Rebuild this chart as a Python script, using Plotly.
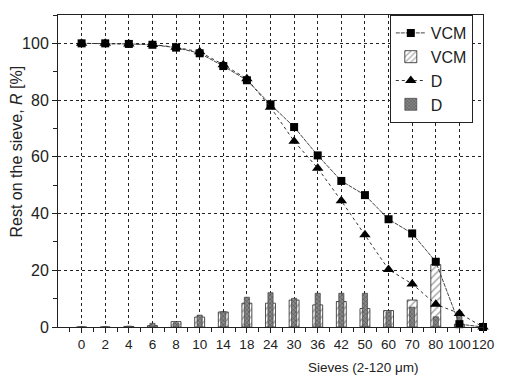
import plotly.graph_objects as go

sieves = ["0", "2", "4", "6", "8", "10", "14", "18", "24", "30", "36", "42",
          "50", "60", "70", "80", "100", "120"]
vcm_cum = [100, 100, 99.8, 99.5, 98.5, 96.5, 92, 87, 78.5, 70.5, 60.5, 51.5,
           46.5, 38, 33, 23, 1, 0]
d_cum = [100, 100, 99.8, 99.6, 98.6, 97, 92.5, 87.5, 77.5, 65.5, 56, 44.5,
         32.5, 20.3, 15.2, 8, 4.8, 0]
vcm_frac = [0, 0, 0.2, 0.5, 1.9, 3.5, 5.3, 8.4, 8.4, 9.5, 7.8, 9, 6.5, 5.8,
            9.5, 22, 1, 0]
d_frac = [0, 0, 0.3, 1.3, 1.5, 4.2, 5.4, 10.5, 12.1, 10.1, 11.9, 11.9, 11.9,
          5.4, 7, 3.6, 5.5, 0]

idx = list(range(len(sieves)))
FONT = "Liberation Sans, Arial, sans-serif"

fig = go.Figure()
fig.add_trace(go.Bar(
    x=idx, y=vcm_frac, name="VCM", width=0.42, legendrank=2,
    marker=dict(color="white", line=dict(color="#222", width=0.8),
                pattern=dict(shape="/", fgcolor="#555", size=5, solidity=0.3)),
))
fig.add_trace(go.Bar(
    x=idx, y=d_frac, name="D", width=0.22, legendrank=4,
    marker=dict(color="#888", line=dict(color="#333", width=0.6),
                pattern=dict(shape="x", fgcolor="#222", size=3, solidity=0.4)),
))
fig.add_trace(go.Scatter(
    x=idx, y=vcm_cum, name="VCM", mode="lines+markers", legendrank=1,
    line=dict(color="#444", width=1, dash="4px,1px"),
    marker=dict(symbol="square", size=8, color="black"),
    cliponaxis=False,
))
fig.add_trace(go.Scatter(
    x=idx, y=d_cum, name="D", mode="lines+markers", legendrank=3,
    line=dict(color="#333", width=1, dash="dot"),
    marker=dict(symbol="triangle-up", size=10, color="black"),
    cliponaxis=False,
))

fig.update_layout(
    width=505, height=376,
    margin=dict(l=58, r=22, t=15, b=49),
    paper_bgcolor="white", plot_bgcolor="white",
    barmode="overlay",
    font=dict(family=FONT, size=14, color="#222"),
    showlegend=True,
    legend=dict(x=0.976, y=1, xanchor="right", yanchor="top",
                bordercolor="#222", borderwidth=1, bgcolor="white",
                font=dict(size=16), tracegroupgap=0,
                itemwidth=30),
    xaxis=dict(
        range=[-1, 17], tickmode="array", tickvals=idx, ticktext=sieves,
        tickangle=0,
        showline=True, linecolor="#222", linewidth=1, mirror=True,
        ticks="outside", ticklen=5, tickcolor="#222",
        showgrid=True, gridcolor="#222", griddash="dot", gridwidth=1,
        zeroline=False, tickfont=dict(size=13.5),
        minor=dict(tick0=-0.5, dtick=1, ticks="outside", ticklen=4,
                   tickcolor="#222", showgrid=False),
    ),
    yaxis=dict(
        range=[0, 110], tickmode="linear", tick0=0, dtick=20,
        showline=True, linecolor="#222", linewidth=1, mirror=True,
        ticks="outside", ticklen=5, tickcolor="#222",
        showgrid=True, gridcolor="#222", griddash="dot", gridwidth=1,
        zeroline=False, tickfont=dict(size=16),
        minor=dict(dtick=10, ticks="outside", ticklen=4, tickcolor="#222",
                   showgrid=False),
    ),
    annotations=[
        dict(text="Sieves (2-120 \u03bcm)", xref="paper", yref="paper",
             x=0.718, y=-0.131, xanchor="center", yanchor="middle",
             showarrow=False, font=dict(size=13.5)),
        dict(text="Rest on the sieve, <i>R</i> [%]", xref="paper",
             yref="paper", x=-0.0965, y=0.5625, xanchor="center",
             yanchor="middle", textangle=-90, showarrow=False,
             font=dict(size=16)),
    ],
)

fig.write_html("out.html", config={"displayModeBar": False},
               post_script="document.body.style.margin='0px';")
